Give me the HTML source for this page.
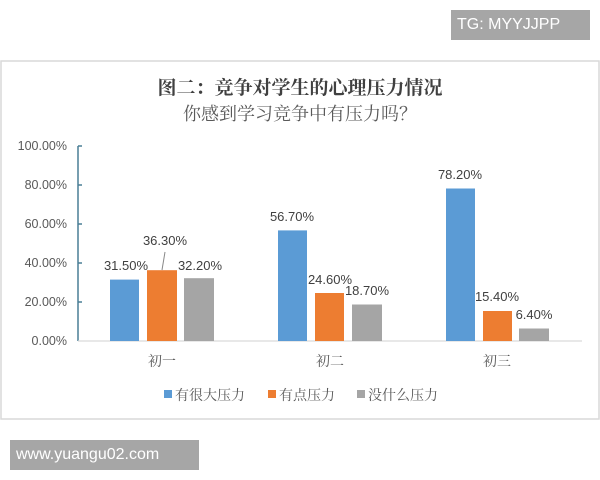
<!DOCTYPE html>
<html><head><meta charset="utf-8"><style>
body{margin:0;width:600px;height:480px;background:#fff;overflow:hidden;position:relative;font-family:"Liberation Sans","Noto Sans CJK SC",sans-serif}
.wm{position:absolute;background:#a6a6a6;color:#fff;font-size:16px;line-height:30px}
</style></head><body>
<div class="wm" style="left:451px;top:10px;width:139px;height:30px;padding-left:6px;box-sizing:border-box">TG: MYYJJPP</div>
<div class="wm" style="left:10px;top:440px;width:189px;height:30px;padding-left:6px;box-sizing:border-box">www.yuangu02.com</div>
<svg width="600" height="480" style="position:absolute;left:0;top:0">
<rect x="1" y="61" width="598" height="358" fill="#fff" stroke="#d9d9d9" stroke-width="1.5"/>
<g font-family="'Noto Serif CJK SC','WenQuanYi Zen Hei',serif" text-anchor="middle">
<text x="300" y="94" font-size="19" font-weight="bold" fill="#404040">图二：竞争对学生的心理压力情况</text>
<text x="300" y="120" font-size="18" fill="#595959">你感到学习竞争中有压力吗？</text>
</g>
<g font-size="12.5" fill="#595959" text-anchor="end">
<text x="67" y="150">100.00%</text><text x="67" y="189">80.00%</text><text x="67" y="228">60.00%</text>
<text x="67" y="267">40.00%</text><text x="67" y="306">20.00%</text><text x="67" y="345">0.00%</text>
</g>
<line x1="78" y1="146" x2="78" y2="341" stroke="#4a7f96" stroke-width="1.5"/>
<g stroke="#4a7f96" stroke-width="1.5"><line x1="78" y1="146" x2="82" y2="146"/><line x1="78" y1="185" x2="82" y2="185"/><line x1="78" y1="224" x2="82" y2="224"/><line x1="78" y1="263" x2="82" y2="263"/><line x1="78" y1="302" x2="82" y2="302"/></g>
<line x1="78" y1="341" x2="582" y2="341" stroke="#d9d9d9" stroke-width="1.2"/>
<g fill="#5b9bd5"><rect x="110" y="279.6" width="29" height="61.4"/><rect x="278" y="230.4" width="29" height="110.6"/><rect x="446" y="188.5" width="29" height="152.5"/></g>
<g fill="#ed7d31"><rect x="147" y="270.2" width="30" height="70.8"/><rect x="315" y="293" width="29" height="48"/><rect x="483" y="311" width="29" height="30"/></g>
<g fill="#a5a5a5"><rect x="184" y="278.2" width="30" height="62.8"/><rect x="352" y="304.5" width="30" height="36.5"/><rect x="519" y="328.5" width="30" height="12.5"/></g>
<line x1="165" y1="252" x2="162" y2="270" stroke="#888" stroke-width="1"/>
<g font-size="13" fill="#404040" text-anchor="middle">
<text x="126" y="270">31.50%</text><text x="165" y="245">36.30%</text><text x="200" y="270">32.20%</text>
<text x="292" y="221">56.70%</text><text x="330" y="284">24.60%</text><text x="367" y="295">18.70%</text>
<text x="460" y="179">78.20%</text><text x="497" y="301">15.40%</text><text x="534" y="319">6.40%</text>
</g>
<g font-family="'Noto Serif CJK SC','WenQuanYi Zen Hei',serif" font-size="14" fill="#595959" text-anchor="middle">
<text x="162" y="366">初一</text><text x="330" y="366">初二</text><text x="497" y="366">初三</text>
</g>
<g font-family="'Noto Serif CJK SC','WenQuanYi Zen Hei',serif" font-size="14" fill="#595959">
<rect x="164" y="390" width="8" height="8" fill="#5b9bd5"/><text x="175" y="400">有很大压力</text>
<rect x="268" y="390" width="8" height="8" fill="#ed7d31"/><text x="279" y="400">有点压力</text>
<rect x="357" y="390" width="8" height="8" fill="#a5a5a5"/><text x="368" y="400">没什么压力</text>
</g>
</svg>
</body></html>
